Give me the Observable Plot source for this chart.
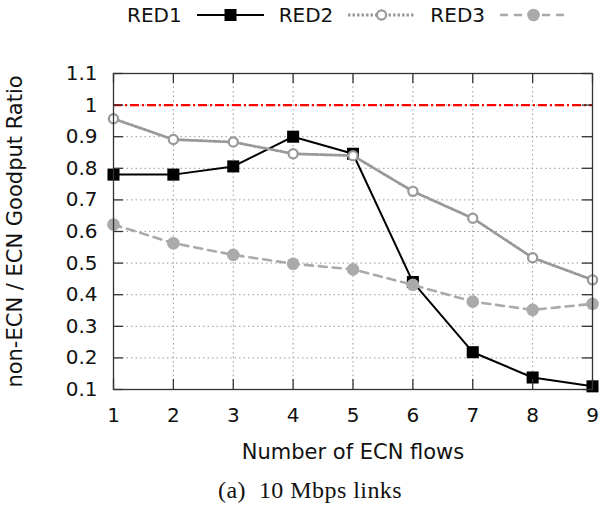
<!DOCTYPE html>
<html><head><meta charset="utf-8">
<script src="https://cdn.jsdelivr.net/npm/d3@7"></script>
<script src="https://cdn.jsdelivr.net/npm/@observablehq/plot@0.6"></script>
<style>
body{margin:0;background:#fff;width:600px;height:510px;overflow:hidden;position:relative;font-family:"DejaVu Sans",sans-serif;}
#legend{position:absolute;left:127px;top:2px;height:26px;display:flex;align-items:center;font-size:20px;color:#111;}
#legend .lab{display:inline-block;}
#legend svg{margin:0 15px;display:block;}
#chart{position:absolute;left:0;top:30px;}
#caption{position:absolute;left:218px;top:477px;font-family:"Liberation Serif",serif;font-size:24px;letter-spacing:0.45px;color:#111;white-space:pre;}
</style></head><body>
<div id="legend"></div>
<div id="chart"></div>
<div id="caption">(a)  10 Mbps links</div>
<script>
// ---- data ----
const flows = [1, 2, 3, 4, 5, 6, 7, 8, 9];
const red1 = [0.78, 0.78, 0.806, 0.90, 0.846, 0.44, 0.218, 0.138, 0.11];
const red2 = [0.957, 0.891, 0.883, 0.846, 0.84, 0.727, 0.642, 0.517, 0.447];
const red3 = [0.622, 0.563, 0.526, 0.498, 0.48, 0.431, 0.378, 0.352, 0.371];
const seriesNames = ["RED1", "RED2", "RED3"];
const yTicks = [0.1, 0.2, 0.3, 0.4, 0.5, 0.6, 0.7, 0.8, 0.9, 1, 1.1];
const xTicks = [1, 2, 3, 4, 5, 6, 7, 8, 9];
const refLine = [1];
const xLabel = "Number of ECN flows";
const yLabel = "non-ECN / ECN Goodput Ratio";

// ---- styles ----
const styles = [
  {stroke: "#000", dash: null, width: 2, symbol: "square", fill: "#000", r: 6.8, sw: 0},
  {stroke: "#999", dash: "2.5,2", width: 2.8, symbol: "circle", fill: "none", r: 4.6, sw: 2.2},
  {stroke: "#aaa", dash: "8,6", width: 2.6, symbol: "circle", fill: "#aaa", r: 6.3, sw: 0}
];
const seriesValues = [red1, red2, red3];
const rows = seriesValues.map(vals => flows.map((f, i) => ({x: f, y: vals[i]})));

// ---- legend ----
const legend = d3.select("#legend");
seriesNames.forEach((name, k) => {
  const s = styles[k];
  legend.append("span").attr("class", "lab").text(name);
  const svg = legend.append("svg").attr("width", 67).attr("height", 20);
  svg.append("line").attr("x1", 0).attr("x2", 67).attr("y1", 10).attr("y2", 10)
    .attr("stroke", s.stroke).attr("stroke-width", s.width).attr("stroke-dasharray", s.dash);
  if (s.symbol === "square") {
    svg.append("rect").attr("x", 33.5 - 6).attr("y", 4).attr("width", 12).attr("height", 12).attr("fill", s.fill);
  } else {
    svg.append("circle").attr("cx", 33.5).attr("cy", 10).attr("r", s.r)
      .attr("fill", s.fill === "none" ? "#fff" : s.fill).attr("stroke", s.fill === "none" ? s.stroke : "none").attr("stroke-width", s.sw);
  }
});

// ---- chart ----
const fw = 479, fh = 316, tick = 10;
const seriesMarks = rows.flatMap((data, k) => {
  const s = styles[k];
  return [
    Plot.line(data, {x: "x", y: "y", stroke: s.stroke, strokeWidth: s.width, strokeDasharray: s.dash || undefined}),
    Plot.dot(data, {x: "x", y: "y", symbol: s.symbol, r: s.r, fill: s.fill === "none" ? "#fff" : s.fill,
      stroke: s.fill === "none" ? s.stroke : "none", strokeWidth: s.sw})
  ];
});

const chart = Plot.plot({
  width: 600, height: 440,
  marginTop: 43, marginBottom: 81, marginLeft: 113, marginRight: 8,
  style: {fontFamily: "DejaVu Sans", fontSize: "20px", color: "#111", background: "#fff"},
  x: {domain: [1, 9]},
  y: {domain: [0.1, 1.1]},
  marks: [
    Plot.gridX(xTicks, {stroke: "#999", strokeOpacity: 1, strokeWidth: 1, strokeDasharray: "1.5,3"}),
    Plot.gridY(yTicks, {stroke: "#999", strokeOpacity: 1, strokeWidth: 1, strokeDasharray: "1.5,3"}),
    Plot.ruleY(refLine, {stroke: "#ff0000", strokeWidth: 2.2, strokeDasharray: "9,3,2,3"}),
    ...seriesMarks,
    Plot.ruleX(xTicks, {stroke: "#333", strokeWidth: 1.3, insetTop: fh - tick}),
    Plot.ruleX(xTicks, {stroke: "#333", strokeWidth: 1.3, insetBottom: fh - tick}),
    Plot.ruleY(yTicks, {stroke: "#333", strokeWidth: 1.3, insetRight: fw - tick}),
    Plot.ruleY(yTicks, {stroke: "#333", strokeWidth: 1.3, insetLeft: fw - tick}),
    Plot.frame({stroke: "#333", strokeWidth: 1.3}),
    Plot.axisX({ticks: xTicks, tickSize: 0, tickPadding: 18, tickFormat: d => String(d), label: null}),
    Plot.axisX({ticks: [], tickSize: 0, fontSize: 21,
      label: xLabel, labelAnchor: "center", labelArrow: "none", labelOffset: 69}),
    Plot.axisY({ticks: yTicks, tickSize: 0, tickPadding: 16, tickFormat: d => String(d), label: null}),
    Plot.axisY({ticks: [], tickSize: 0, fontSize: 21,
      label: yLabel, labelAnchor: "center", labelArrow: "none", labelOffset: 106})
  ]
});
document.getElementById("chart").appendChild(chart);
</script>
</body></html>
